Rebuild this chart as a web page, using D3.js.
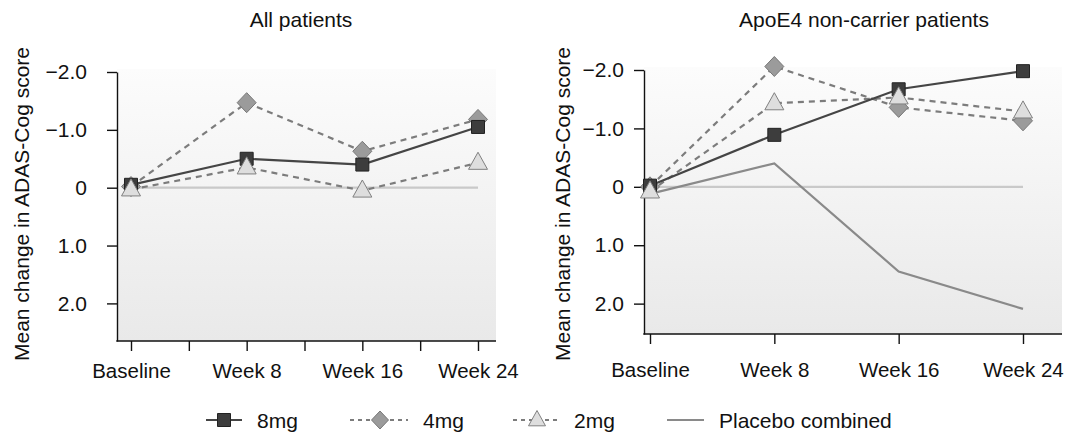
<!DOCTYPE html>
<html lang="en">
<head>
  <meta charset="UTF-8">
  <title>Mean change in ADAS-Cog score</title>
  <style>
    * { margin: 0; }
    body { background: #fff; }
    svg text { font-family: "Liberation Sans", Arial, Helvetica, sans-serif; fill: #111; }
  </style>
</head>
<body>
  <div id="chart"></div>
  <script src="https://cdnjs.cloudflare.com/ajax/libs/d3/7.8.5/d3.min.js"></script>
  <script>
    // data (negative = improvement, drawn upwards)
    const weeks = [0, 8, 16, 24];
    const weekLabels = ['Baseline', 'Week 8', 'Week 16', 'Week 24'];
    const yTicks = [-2, -1, 0, 1, 2];

    const all8mg = [-0.05, -0.5, -0.4, -1.05];
    const all4mg = [-0.02, -1.47, -0.63, -1.18];
    const all2mg = [0.03, -0.35, 0.05, -0.43];

    const non8mg = [-0.02, -0.89, -1.67, -1.98];
    const non4mg = [0.0, -2.06, -1.36, -1.13];
    const non2mg = [0.08, -1.43, -1.53, -1.29];
    const nonPlacebo = [0.12, -0.4, 1.45, 2.09];

    const legendNames = ['8mg', '4mg', '2mg', 'Placebo combined'];

    const W = 1066, H = 437;
    const FS = 21;

    const svg = d3.select('#chart').append('svg')
      .attr('width', W)
      .attr('height', H);

    const grad = svg.append('defs').append('linearGradient')
      .attr('id', 'bg')
      .attr('x1', 0).attr('y1', 0).attr('x2', 0).attr('y2', 1);
    grad.append('stop').attr('offset', '0%').attr('stop-color', '#fcfcfc');
    grad.append('stop').attr('offset', '100%').attr('stop-color', '#e9e9e9');

    // marker shapes
    function square(s) {
      const p = d3.path();
      p.rect(-s / 2, -s / 2, s, s);
      return p.toString();
    }
    function diamond(s) {
      const p = d3.path();
      p.moveTo(0, -s / 2 - 0.5);
      p.lineTo(s / 2, 0);
      p.lineTo(0, s / 2 + 0.5);
      p.lineTo(-s / 2, 0);
      p.closePath();
      return p.toString();
    }
    function triangle(s) {
      const h = s * 0.9;
      const p = d3.path();
      p.moveTo(0, -h * 0.62);
      p.lineTo(s / 2, h * 0.38);
      p.lineTo(-s / 2, h * 0.38);
      p.closePath();
      return p.toString();
    }

    const styles = {
      '8mg': { line: '#454545', dash: null, shape: square, size: 13, fill: '#3d3d3d', stroke: '#222' },
      '4mg': { line: '#7c7c7c', dash: '6,5', shape: diamond, size: 19, fill: '#9b9b9b', stroke: '#777' },
      '2mg': { line: '#7c7c7c', dash: '6,5', shape: triangle, size: 19, fill: '#dedede', stroke: '#808080' },
      'Placebo combined': { line: '#8a8a8a', dash: null, shape: null }
    };

    function drawPanel(cfg) {
      const g = svg.append('g');

      const x = d3.scaleLinear().domain([0, 24]).range(cfg.xRange);
      const y = d3.scaleLinear().domain([-2, cfg.yMax]).range([cfg.yTop, cfg.yBottom]);

      g.append('rect')
        .attr('x', cfg.axisX)
        .attr('y', cfg.yTop - 3)
        .attr('width', cfg.bgRight - cfg.axisX)
        .attr('height', cfg.yBottom - cfg.yTop + 3)
        .attr('fill', 'url(#bg)');

      // y axis
      const yAxis = g.append('g')
        .attr('transform', `translate(${cfg.axisX},0)`)
        .call(d3.axisLeft(y)
          .tickValues(yTicks)
          .tickSize(10)
          .tickSizeOuter(0)
          .tickPadding(cfg.yPad)
          .tickFormat(d => d === 0 ? '0' : (d < 0 ? '\u2212' : '') + Math.abs(d).toFixed(1)));
      yAxis.selectAll('path, line').attr('stroke', '#111').attr('stroke-width', 1.4);
      yAxis.selectAll('text').attr('font-size', FS).attr('fill', '#111');

      // x axis
      const xAxis = g.append('g')
        .attr('transform', `translate(0,${cfg.yBottom})`)
        .call(d3.axisBottom(x)
          .tickValues(cfg.xTicks)
          .tickSize(10)
          .tickSizeOuter(0)
          .tickPadding(cfg.xPad)
          .tickFormat(d => {
            const i = weeks.indexOf(d);
            return i < 0 ? '' : weekLabels[i];
          }));
      xAxis.select('.domain').remove();
      xAxis.selectAll('line').attr('stroke', '#111').attr('stroke-width', 1.4);
      xAxis.selectAll('text').attr('font-size', 20.5).attr('fill', '#111');
      g.append('line')
        .attr('x1', cfg.axisX - 0.7).attr('x2', cfg.bgRight)
        .attr('y1', cfg.yBottom).attr('y2', cfg.yBottom)
        .attr('stroke', '#111').attr('stroke-width', 1.4);

      // titles
      g.append('text')
        .attr('x', cfg.titleX)
        .attr('y', 27)
        .attr('text-anchor', 'middle')
        .attr('font-size', FS)
        .text(cfg.title);

      g.append('text')
        .attr('transform', `translate(${cfg.labelX},204) rotate(-90)`)
        .attr('text-anchor', 'middle')
        .attr('font-size', FS)
        .text('Mean change in ADAS-Cog score');

      // zero reference
      g.append('line')
        .attr('x1', x(0)).attr('x2', x(24))
        .attr('y1', y(0)).attr('y2', y(0))
        .attr('stroke', '#c9c9c9').attr('stroke-width', 2.2);

      const line = d3.line()
        .x((d, i) => x(weeks[i]))
        .y(d => y(d));

      cfg.series.forEach(s => {
        const st = styles[s.name];
        g.append('path')
          .datum(s.values)
          .attr('fill', 'none')
          .attr('stroke', st.line)
          .attr('stroke-width', 2.2)
          .attr('stroke-dasharray', st.dash)
          .attr('d', line);
      });

      ['4mg', '8mg', '2mg'].forEach(name => {
        const s = cfg.series.find(d => d.name === name);
        if (!s) return;
        const st = styles[name];
        g.selectAll(null)
          .data(s.values)
          .join('path')
          .attr('transform', (d, i) => `translate(${x(weeks[i])},${y(d)})`)
          .attr('d', st.shape(st.size))
          .attr('fill', st.fill)
          .attr('stroke', st.stroke)
          .attr('stroke-width', 1);
      });
    }

    drawPanel({
      title: 'All patients', titleX: 301,
      axisX: 117, bgRight: 496, yTop: 72, yBottom: 341, yMax: 2.65,
      xRange: [131, 478], xTicks: [0, 4, 8, 12, 16, 20, 24],
      yPad: 20, xPad: 12, labelX: 29,
      series: [
        { name: '2mg', values: all2mg },
        { name: '4mg', values: all4mg },
        { name: '8mg', values: all8mg }
      ]
    });

    drawPanel({
      title: 'ApoE4 non-carrier patients', titleX: 864,
      axisX: 644, bgRight: 1062, yTop: 70, yBottom: 334, yMax: 2.52,
      xRange: [650, 1023], xTicks: weeks,
      yPad: 10, xPad: 18, labelX: 570,
      series: [
        { name: 'Placebo combined', values: nonPlacebo },
        { name: '2mg', values: non2mg },
        { name: '4mg', values: non4mg },
        { name: '8mg', values: non8mg }
      ]
    });

    // legend
    const legendX = [206, 350, 513, 667];
    const legendW = [36, 58, 46, 37];
    const ly = 420;
    const legend = svg.append('g');
    legendNames.forEach((name, i) => {
      const st = styles[name];
      const item = legend.append('g').attr('transform', `translate(${legendX[i]},${ly})`);
      item.append('line')
        .attr('x1', 0).attr('x2', legendW[i])
        .attr('stroke', st.line)
        .attr('stroke-width', 2.2)
        .attr('stroke-dasharray', st.dash ? '4,4' : null);
      if (st.shape) {
        item.append('path')
          .attr('transform', `translate(${legendW[i] / 2 + (i === 0 ? 0 : 1)},0)`)
          .attr('d', st.shape(st.size === 13 ? 13 : 17))
          .attr('fill', st.fill)
          .attr('stroke', st.stroke)
          .attr('stroke-width', 1);
      }
      item.append('text')
        .attr('x', legendW[i] + 15)
        .attr('y', 7.5)
        .attr('font-size', FS)
        .text(name);
    });
  </script>
</body>
</html>
